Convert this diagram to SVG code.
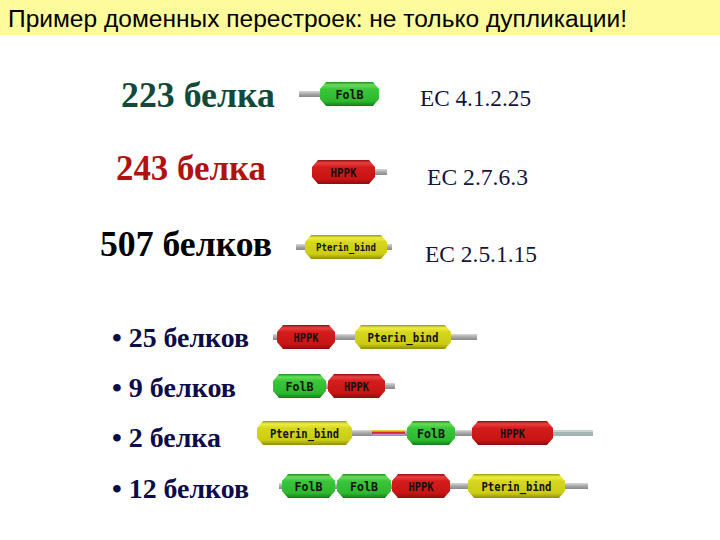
<svg xmlns="http://www.w3.org/2000/svg" width="720" height="540" viewBox="0 0 720 540">
<defs>
<linearGradient id="gG" x1="0" y1="0" x2="0" y2="1">
<stop offset="0" stop-color="#1f8f1f"/><stop offset="0.12" stop-color="#66dd55"/><stop offset="0.3" stop-color="#3ac63a"/><stop offset="0.8" stop-color="#2db82d"/><stop offset="1" stop-color="#1a7a1a"/>
</linearGradient>
<linearGradient id="gR" x1="0" y1="0" x2="0" y2="1">
<stop offset="0" stop-color="#8f1010"/><stop offset="0.12" stop-color="#e84040"/><stop offset="0.3" stop-color="#d41c1c"/><stop offset="0.8" stop-color="#c81414"/><stop offset="1" stop-color="#8a0e0e"/>
</linearGradient>
<linearGradient id="gY" x1="0" y1="0" x2="0" y2="1">
<stop offset="0" stop-color="#9a9a10"/><stop offset="0.12" stop-color="#eeee44"/><stop offset="0.3" stop-color="#d6d61e"/><stop offset="0.8" stop-color="#cccc14"/><stop offset="1" stop-color="#8e8e0e"/>
</linearGradient>
<linearGradient id="gL" x1="0" y1="0" x2="0" y2="1">
<stop offset="0" stop-color="#d8d8d8"/><stop offset="0.5" stop-color="#a8a8a8"/><stop offset="1" stop-color="#888"/>
</linearGradient>
</defs>
<style>
.title{font-family:"Liberation Sans",Arial,sans-serif;font-size:23px;fill:#000}
.cnt{font-family:"Liberation Serif","Times New Roman",serif;font-size:36px;font-weight:bold}
.ec{font-family:"Liberation Serif","Times New Roman",serif;font-size:23px;fill:#14143c}
.bul{font-family:"Liberation Serif","Times New Roman",serif;font-size:27px;font-weight:bold;fill:#0c0c48}
.dl{font-family:"DejaVu Sans Mono","Liberation Mono",monospace;font-size:12.5px;font-weight:bold;fill:#111;text-anchor:middle}
.g{fill:url(#gG)}.r{fill:url(#gR)}.y{fill:url(#gY)}
.ln{fill:url(#gL)}
</style>
<rect width="720" height="540" fill="#fff"/>
<rect x="0" y="0" width="720" height="35" fill="#fdfb9c"/>
<text class="title" x="8" y="27" textLength="619" lengthAdjust="spacingAndGlyphs">Пример доменных перестроек: не только дупликации!</text>

<g id="labels">
<text class="cnt" x="121" y="107" fill="#124a3a" textLength="154" lengthAdjust="spacingAndGlyphs">223 белка</text>
<text class="cnt" x="116" y="180" fill="#b01212" textLength="150" lengthAdjust="spacingAndGlyphs">243 белка</text>
<text class="cnt" x="100" y="256" fill="#000" textLength="172" lengthAdjust="spacingAndGlyphs">507 белков</text>
<text class="ec" x="420" y="106" textLength="111" lengthAdjust="spacingAndGlyphs">EC 4.1.2.25</text>
<text class="ec" x="427" y="185" textLength="101" lengthAdjust="spacingAndGlyphs">EC 2.7.6.3</text>
<text class="ec" x="425" y="262" textLength="112" lengthAdjust="spacingAndGlyphs">EC 2.5.1.15</text>
<text class="bul" x="112" y="347" textLength="137" lengthAdjust="spacingAndGlyphs">• 25 белков</text>
<text class="bul" x="112" y="397" textLength="124" lengthAdjust="spacingAndGlyphs">• 9 белков</text>
<text class="bul" x="112" y="447" textLength="109" lengthAdjust="spacingAndGlyphs">• 2 белка</text>
<text class="bul" x="112" y="498" textLength="137" lengthAdjust="spacingAndGlyphs">• 12 белков</text>
</g>

<g id="connectors">
<rect class="ln" x="299" y="91" width="22" height="6"/>
<rect class="ln" x="374" y="169" width="13" height="6"/>
<rect class="ln" x="296" y="244" width="10" height="6"/>
<rect class="ln" x="386" y="244" width="6" height="6"/>
<rect class="ln" x="273" y="334" width="204" height="6"/>
<rect class="ln" x="273" y="383" width="122" height="6"/>
<rect class="ln" x="257" y="430" width="116" height="6"/>
<rect x="372" y="430" width="34" height="1.5" fill="#e8d040"/>
<rect x="372" y="431.5" width="34" height="1.5" fill="#d03030"/>
<rect x="372" y="433" width="34" height="1.5" fill="#4070d0"/>
<rect x="372" y="434.5" width="34" height="1.5" fill="#e070b0"/>
<rect class="ln" x="405" y="430" width="68" height="6"/>
<rect x="552" y="430" width="41" height="6" fill="#a4b4b0"/>
<rect x="552" y="430" width="41" height="2" fill="#c8d4d0"/>
<rect class="ln" x="279" y="483" width="309" height="6"/>
</g>

<g id="r1-folb"><polygon class="g" points="326,82 373,82 379,89 379,99 373,106 326,106 320,99 320,89"/><text class="dl" x="349.5" y="99" textLength="28" lengthAdjust="spacingAndGlyphs">FolB</text></g>
<g id="r2-hppk"><polygon class="r" points="318,160 369,160 375,167 375,177 369,184 318,184 312,177 312,167"/><text class="dl" x="343.5" y="177" textLength="26" lengthAdjust="spacingAndGlyphs">HPPK</text></g>
<g id="r3-pterin"><polygon class="y" points="311,235 381,235 387,242 387,252 381,259 311,259 305,252 305,242"/><text class="dl" x="346" y="251" textLength="60" lengthAdjust="spacingAndGlyphs" style="font-size:11px">Pterin_bind</text></g>

<g id="r4-hppk"><polygon class="r" points="283,325 329,325 335,332 335,342 329,349 283,349 277,342 277,332"/><text class="dl" x="306" y="342" textLength="25" lengthAdjust="spacingAndGlyphs">HPPK</text></g>
<g id="r4-pterin"><polygon class="y" points="361,325 445,325 451,332 451,342 445,349 361,349 355,342 355,332"/><text class="dl" x="403" y="342" textLength="71" lengthAdjust="spacingAndGlyphs">Pterin_bind</text></g>

<g id="r5-folb"><polygon class="g" points="279,374 320,374 326,381 326,391 320,398 279,398 273,391 273,381"/><text class="dl" x="299.5" y="391" textLength="28" lengthAdjust="spacingAndGlyphs">FolB</text></g>
<g id="r5-hppk"><polygon class="r" points="334,374 379,374 385,381 385,391 379,398 334,398 328,391 328,381"/><text class="dl" x="356.5" y="391" textLength="25" lengthAdjust="spacingAndGlyphs">HPPK</text></g>

<g id="r6-pterin"><polygon class="y" points="263,421 346,421 352,428 352,438 346,445 263,445 257,438 257,428"/><text class="dl" x="304.5" y="438" textLength="69" lengthAdjust="spacingAndGlyphs">Pterin_bind</text></g>
<g id="r6-folb"><polygon class="g" points="413,421 449,421 455,428 455,438 449,445 413,445 407,438 407,428"/><text class="dl" x="431" y="438" textLength="28" lengthAdjust="spacingAndGlyphs">FolB</text></g>
<g id="r6-hppk"><polygon class="r" points="478,421 547,421 553,428 553,438 547,445 478,445 472,438 472,428"/><text class="dl" x="512.5" y="438" textLength="25" lengthAdjust="spacingAndGlyphs">HPPK</text></g>

<g id="r7-folb1"><polygon class="g" points="288,474 329,474 335,481 335,491 329,498 288,498 282,491 282,481"/><text class="dl" x="308.5" y="491" textLength="28" lengthAdjust="spacingAndGlyphs">FolB</text></g>
<g id="r7-folb2"><polygon class="g" points="343,474 385,474 391,481 391,491 385,498 343,498 337,491 337,481"/><text class="dl" x="364" y="491" textLength="28" lengthAdjust="spacingAndGlyphs">FolB</text></g>
<g id="r7-hppk"><polygon class="r" points="398,474 444,474 450,481 450,491 444,498 398,498 392,491 392,481"/><text class="dl" x="421" y="491" textLength="25" lengthAdjust="spacingAndGlyphs">HPPK</text></g>
<g id="r7-pterin"><polygon class="y" points="474,474 559,474 565,481 565,491 559,498 474,498 468,491 468,481"/><text class="dl" x="516.5" y="491" textLength="70" lengthAdjust="spacingAndGlyphs">Pterin_bind</text></g>
</svg>
